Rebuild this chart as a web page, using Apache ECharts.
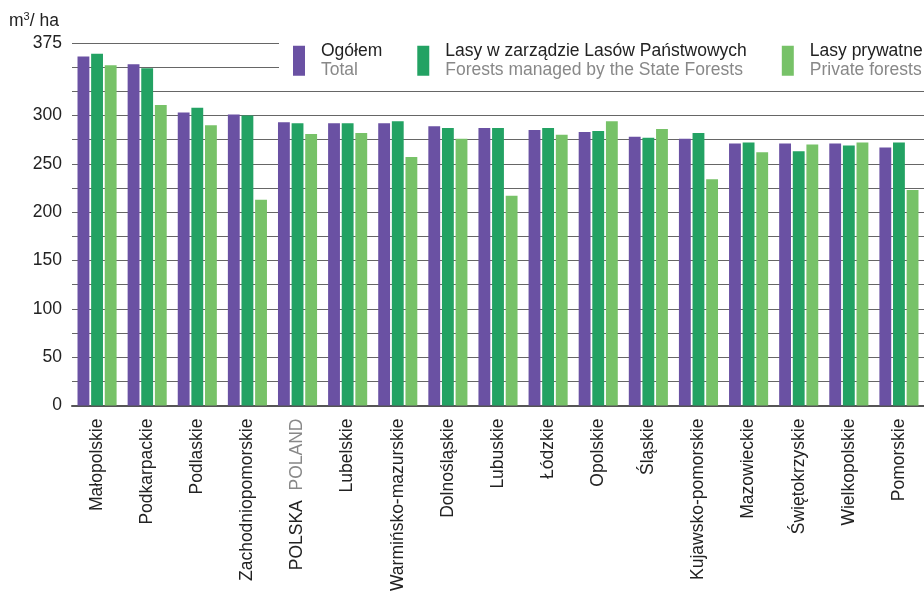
<!DOCTYPE html>
<html>
<head>
<meta charset="utf-8">
<script src="https://cdn.jsdelivr.net/npm/echarts@6/dist/echarts.min.js"></script>
<style>
  html, body { margin: 0; padding: 0; background: #fff; }
  #chartdata { width: 924px; height: 594px; }
</style>
</head>
<body>
<div id="chartdata"></div>
<script>
var regions = ['Małopolskie', 'Podkarpackie', 'Podlaskie', 'Zachodniopomorskie', 'POLSKA', 'Lubelskie',
  'Warmińsko-mazurskie', 'Dolnośląskie', 'Lubuskie', 'Łódzkie', 'Opolskie', 'Śląskie',
  'Kujawsko-pomorskie', 'Mazowieckie', 'Świętokrzyskie', 'Wielkopolskie', 'Pomorskie']
var total = [361, 353, 303, 301, 293, 292, 292, 289, 287, 285, 283, 278, 276, 271, 271, 271, 267]
var stateForests = [364, 349, 308, 300, 292, 292, 294, 287, 287, 287, 284, 277, 282, 272, 263, 269, 272]
var privateForests = [352, 311, 290, 213, 281, 282, 257, 276, 217, 280, 294, 286, 234, 262, 270, 272, 223]
var yTicks = [0, 50, 100, 150, 200, 250, 300, 375]
var seriesPl = ['Ogółem', 'Lasy w zarządzie Lasów Państwowych', 'Lasy prywatne']
var seriesEn = ['Total', 'Forests managed by the State Forests', 'Private forests']
var colors = ['#6a51a3', '#23a263', '#77c268']

var font = 'Liberation Sans, Arial, sans-serif'
var fs = 17.5
var chart = echarts.init(document.getElementById('chartdata'))

function barSeries (i, data) {
  return {
    name: seriesPl[i],
    type: 'bar',
    barCategoryGap: '22%',
    barGap: '15%',
    itemStyle: { color: colors[i] },
    data: data
  }
}

var option = {
  animation: false,
  textStyle: { fontFamily: font },
  title: {
    text: '{m|m}{s|3}{m|/ ha}',
    left: 9,
    top: 11,
    padding: 0,
    textStyle: {
      fontWeight: 'normal',
      rich: {
        m: { fontSize: fs, color: '#222', fontFamily: font, fontWeight: 'normal' },
        s: { fontSize: 11, color: '#222', fontFamily: font, fontWeight: 'normal', padding: [0, 0, 9, 0] }
      }
    }
  },
  legend: {
    left: 279,
    top: 38,
    width: 700,
    padding: [4, 40, 4, 14],
    backgroundColor: '#fff',
    icon: 'rect',
    itemWidth: 12,
    itemHeight: 30,
    itemGap: 35,
    selectedMode: false,
    data: seriesPl,
    formatter: function (name) {
      var i = seriesPl.indexOf(name)
      return '{a|' + name + '}\n{b|' + seriesEn[i] + '}'
    },
    textStyle: {
      padding: [0, 0, 0, 11],
      rich: {
        a: { fontSize: fs, lineHeight: 19.5, color: '#222', fontFamily: font },
        b: { fontSize: fs, lineHeight: 19.5, color: '#888', fontFamily: font }
      }
    }
  },
  grid: {
    left: 72,
    right: 0,
    top: 43,
    bottom: 186
  },
  xAxis: {
    type: 'category',
    data: regions,
    axisTick: { show: false },
    axisLine: { lineStyle: { color: '#555', width: 2 } },
    axisLabel: {
      rotate: 90,
      margin: 13,
      interval: 0,
      fontSize: fs,
      color: '#222',
      formatter: function (v) {
        if (v === 'POLSKA') return '{a|POLSKA}  {b|POLAND}'
        return v
      },
      rich: {
        a: { fontSize: fs, color: '#222', fontFamily: font },
        b: { fontSize: fs, color: '#888', fontFamily: font }
      }
    }
  },
  yAxis: {
    type: 'value',
    min: 0,
    max: 375,
    interval: 25,
    axisLine: { show: false },
    axisTick: { show: false },
    axisLabel: {
      margin: 10,
      fontSize: fs,
      color: '#222',
      formatter: function (v) {
        return yTicks.indexOf(v) >= 0 ? String(v) : ''
      }
    },
    splitLine: { lineStyle: { color: '#666', width: 1 } }
  },
  series: [
    barSeries(0, total),
    barSeries(1, stateForests),
    barSeries(2, privateForests)
  ]
}

chart.setOption(option)
</script>
</body>
</html>
